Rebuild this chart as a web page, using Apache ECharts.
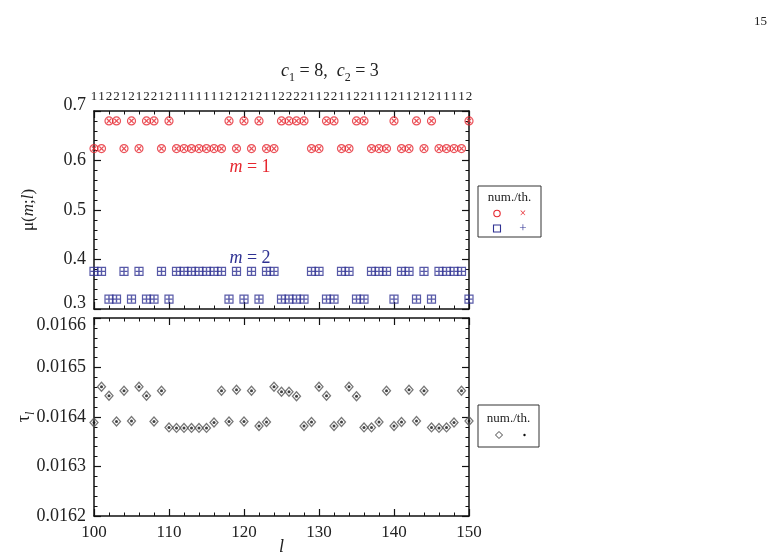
<!DOCTYPE html>
<html><head><meta charset="utf-8">
<script src="https://cdn.jsdelivr.net/npm/echarts@6/dist/echarts.min.js"></script>
<style>html,body{margin:0;padding:0;background:#fff}#c{width:784px;height:557px}</style>
</head><body><div id="c"></div>
<script>
// ---- data ----
const lValues = [100,101,102,103,104,105,106,107,108,109,110,111,112,113,114,115,116,117,118,119,120,121,122,123,124,125,126,127,128,129,130,131,132,133,134,135,136,137,138,139,140,141,142,143,144,145,146,147,148,149,150];
const stateLabels = ['1','1','2','2','1','2','1','2','2','1','2','1','1','1','1','1','1','1','2','1','2','1','2','1','1','2','2','2','2','1','1','2','2','1','1','2','2','1','1','1','2','1','1','2','1','2','1','1','1','1','2'];
const mu1 = [0.624,0.624,0.680,0.680,0.624,0.680,0.624,0.680,0.680,0.624,
             0.680,0.624,0.624,0.624,0.624,0.624,0.624,0.624,0.680,0.624,
             0.680,0.624,0.680,0.624,0.624,0.680,0.680,0.680,0.680,0.624,
             0.624,0.680,0.680,0.624,0.624,0.680,0.680,0.624,0.624,0.624,
             0.680,0.624,0.624,0.680,0.624,0.680,0.624,0.624,0.624,0.624,
             0.680];
const mu2 = [0.376,0.376,0.320,0.320,0.376,0.320,0.376,0.320,0.320,0.376,
             0.320,0.376,0.376,0.376,0.376,0.376,0.376,0.376,0.320,0.376,
             0.320,0.376,0.320,0.376,0.376,0.320,0.320,0.320,0.320,0.376,
             0.376,0.320,0.320,0.376,0.376,0.320,0.320,0.376,0.376,0.376,
             0.320,0.376,0.376,0.320,0.376,0.320,0.376,0.376,0.376,0.376,
             0.320];
const tau = [0.016389,0.016461,0.016443,0.016391,0.016453,0.016392,0.016461,0.016443,0.016391,0.016453,
             0.016379,0.016378,0.016378,0.016378,0.016378,0.016378,0.016389,0.016453,0.016391,0.016455,
             0.016391,0.016453,0.016382,0.016390,0.016461,0.016451,0.016451,0.016442,0.016382,0.016390,
             0.016461,0.016443,0.016382,0.016390,0.016461,0.016442,0.016379,0.016379,0.016390,0.016453,
             0.016382,0.016390,0.016455,0.016392,0.016453,0.016379,0.016378,0.016379,0.016389,0.016453,
             0.016392];
const muTicks = [0.3,0.4,0.5,0.6,0.7];
const tauTicks = [0.0162,0.0163,0.0164,0.0165,0.0166];

// ---- styles ----
const FONT = '"Liberation Serif","Times New Roman",serif';
const RED = '#e6262e', BLUE = '#2e3192';
const PLUS = 'path://M4,0H6V4H10V6H6V10H4V6H0V4H4Z';
const LBL = {fontFamily:FONT, fontSize:18, color:'#222'};

const chart = echarts.init(document.getElementById('c'), null, {renderer:'canvas'});

function frameAxis(extra){
  return Object.assign({
    axisLine:{show:true,onZero:false,lineStyle:{color:'#111',width:1.5}},
    axisTick:{show:true,inside:true,length:7,lineStyle:{color:'#111',width:1.2}},
    minorTick:{show:true,splitNumber:5,length:3.5,lineStyle:{color:'#111',width:1}},
    splitLine:{show:false},
    axisLabel:{show:false}
  }, extra);
}
const xCommon = {type:'value', min:100, max:150, interval:10};
function near(a,b){ return Math.abs(a-b) < 1e-9; }

const option = {
  backgroundColor:'#fff',
  animation:false,
  grid:[
    {left:94, top:111, width:375, height:198},
    {left:94, top:318, width:375, height:209}
  ],
  xAxis:[
    frameAxis(Object.assign({gridIndex:0, position:'bottom'}, xCommon)),
    frameAxis(Object.assign({gridIndex:0, position:'top'}, xCommon)),
    {gridIndex:0, position:'top', type:'value', min:100, max:150, interval:1,
     axisLine:{show:false}, axisTick:{show:false}, splitLine:{show:false},
     axisLabel:{show:true, margin:8, fontFamily:FONT, fontSize:13, color:'#222',
       formatter:function(v){ const i = Math.round(v - lValues[0]); return stateLabels[i] || ''; }}},
    frameAxis(Object.assign({gridIndex:1, position:'bottom',
      axisLabel:{show:true, margin:8, fontFamily:FONT, fontSize:17, color:'#222'},
      name:'{i|l}', nameLocation:'middle', nameGap:22, nameMoveOverlap:false,
      nameTextStyle:{rich:{i:{fontFamily:FONT, fontSize:18, fontStyle:'italic', color:'#222'}}}
    }, xCommon)),
    frameAxis(Object.assign({gridIndex:1, position:'top'}, xCommon))
  ],
  yAxis:[
    frameAxis({gridIndex:0, type:'value', position:'left', min:muTicks[0], max:muTicks[muTicks.length-1], interval:0.1,
      axisLabel:{show:true, margin:8, fontFamily:FONT, fontSize:18, color:'#222',
        formatter:function(v){ const s=v.toFixed(1); return (near(v,muTicks[0])||near(v,muTicks[4])) ? '{up|'+s+'}' : s; },
        rich:{up:Object.assign({padding:[0,0,12,0]}, LBL)}},
      name:'{n|μ(}{i|m}{n|;}{i|l}{n|)}', nameLocation:'middle', nameRotate:90, nameGap:57, nameMoveOverlap:false,
      nameTextStyle:{rich:{n:{fontFamily:FONT,fontSize:17,color:'#222'}, i:{fontFamily:FONT,fontSize:17,fontStyle:'italic',color:'#222'}}}
    }),
    frameAxis({gridIndex:0, type:'value', position:'right', min:muTicks[0], max:muTicks[muTicks.length-1], interval:0.1}),
    frameAxis({gridIndex:1, type:'value', position:'left', min:tauTicks[0], max:tauTicks[tauTicks.length-1], interval:0.0001,
      axisLabel:{show:true, margin:8, fontFamily:FONT, fontSize:18, color:'#222',
        formatter:function(v){ const s=v.toFixed(4); return near(v,tauTicks[4]) ? '{dn|'+s+'}' : s; },
        rich:{dn:Object.assign({padding:[14,0,0,0]}, LBL)}},
      name:'{n|τ}{s|l}', nameLocation:'middle', nameRotate:90, nameGap:57, nameMoveOverlap:false,
      nameTextStyle:{rich:{n:{fontFamily:FONT,fontSize:18,color:'#222',lineHeight:22,verticalAlign:'top'}, s:{fontFamily:FONT,fontSize:12,fontStyle:'italic',color:'#222',lineHeight:11,verticalAlign:'bottom'}}}
    }),
    frameAxis({gridIndex:1, type:'value', position:'right', min:tauTicks[0], max:tauTicks[tauTicks.length-1], interval:0.0001})
  ],
  series:[
    {name:'m1 num', type:'scatter', xAxisIndex:0, yAxisIndex:0, data:lValues.map((l,i)=>[l,mu1[i]]),
     symbol:'circle', symbolSize:8, itemStyle:{color:'rgba(255,255,255,0)', borderColor:RED, borderWidth:1.2}, z:3},
    {name:'m1 th', type:'scatter', xAxisIndex:0, yAxisIndex:0, data:lValues.map((l,i)=>[l,mu1[i]]),
     symbol:PLUS, symbolSize:6, symbolRotate:45, itemStyle:{color:RED}, z:4},
    {name:'m2 num', type:'scatter', xAxisIndex:0, yAxisIndex:0, data:lValues.map((l,i)=>[l,mu2[i]]),
     symbol:'rect', symbolSize:8, itemStyle:{color:'rgba(255,255,255,0)', borderColor:BLUE, borderWidth:1.2}, z:3},
    {name:'m2 th', type:'scatter', xAxisIndex:0, yAxisIndex:0, data:lValues.map((l,i)=>[l,mu2[i]]),
     symbol:PLUS, symbolSize:7, itemStyle:{color:BLUE}, z:4},
    {name:'tau num', type:'scatter', xAxisIndex:3, yAxisIndex:2, data:lValues.map((l,i)=>[l,tau[i]]),
     symbol:'diamond', symbolSize:[8,9], itemStyle:{color:'rgba(255,255,255,0)', borderColor:'#555', borderWidth:1.3}, z:3},
    {name:'tau th', type:'scatter', xAxisIndex:3, yAxisIndex:2, data:lValues.map((l,i)=>[l,tau[i]]),
     symbol:'circle', symbolSize:3, itemStyle:{color:'#111'}, z:4}
  ],
  graphic:[
    {type:'text', right:17, top:15, style:{text:'15', font:'13px '+FONT, fill:'#222'}},
    {type:'text', left:281, top:62, style:{
      text:'{i|c}{s|1}{n| = 8,  }{i|c}{s|2}{n| = 3}', align:'center',
      rich:{
        i:{font:'italic 18px '+FONT, fill:'#222', lineHeight:22, verticalAlign:'top'},
        n:{font:'18px '+FONT, fill:'#222', lineHeight:22, verticalAlign:'top'},
        s:{font:'12px '+FONT, fill:'#222', lineHeight:11, verticalAlign:'bottom'}
      }}},
    {type:'text', x:250, y:167, style:{text:'{i|m}{n| = 1}', align:'center', verticalAlign:'middle',
      rich:{i:{font:'italic 18px '+FONT, fill:RED}, n:{font:'18px '+FONT, fill:RED}}}},
    {type:'text', x:250, y:258, style:{text:'{i|m}{n| = 2}', align:'center', verticalAlign:'middle',
      rich:{i:{font:'italic 18px '+FONT, fill:BLUE}, n:{font:'18px '+FONT, fill:BLUE}}}},
    // legend box top
    {type:'rect', shape:{x:478, y:186, width:63, height:51}, style:{fill:'#fff', stroke:'#333', lineWidth:1}},
    {type:'text', x:509.5, y:198, style:{text:'num./th.', font:'13px '+FONT, fill:'#222', align:'center', verticalAlign:'middle'}},
    {type:'circle', shape:{cx:497, cy:213.5, r:3.2}, style:{fill:'none', stroke:RED, lineWidth:1.1}},
    {type:'text', x:523, y:213.5, style:{text:'×', font:'12px '+FONT, fill:RED, align:'center', verticalAlign:'middle'}},
    {type:'rect', shape:{x:493.5, y:225, width:7, height:7}, style:{fill:'none', stroke:BLUE, lineWidth:1.1}},
    {type:'text', x:523, y:228.5, style:{text:'+', font:'13px '+FONT, fill:BLUE, align:'center', verticalAlign:'middle'}},
    // legend box bottom
    {type:'rect', shape:{x:478, y:405, width:61, height:42}, style:{fill:'#fff', stroke:'#333', lineWidth:1}},
    {type:'text', x:508.5, y:419, style:{text:'num./th.', font:'13px '+FONT, fill:'#222', align:'center', verticalAlign:'middle'}},
    {type:'polygon', shape:{points:[[499,431.5],[502.5,435],[499,438.5],[495.5,435]]}, style:{fill:'none', stroke:'#444', lineWidth:1}},
    {type:'circle', shape:{cx:524.5, cy:435, r:1.2}, style:{fill:'#111'}}
  ]
};
chart.setOption(option);
</script>
</body></html>
